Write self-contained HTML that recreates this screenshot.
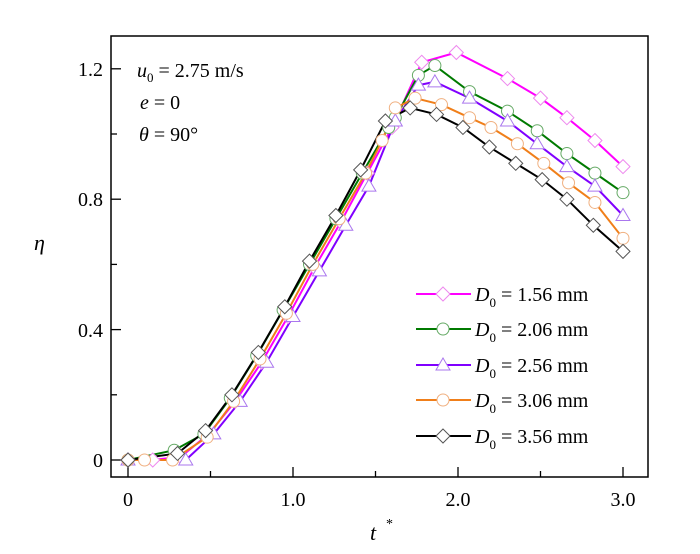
<!DOCTYPE html>
<html><head><meta charset="utf-8"><style>
body{margin:0;background:#fff;}
svg{display:block;font-family:"Liberation Serif",serif;}
</style></head><body>
<svg id="s" width="700" height="554" viewBox="0 0 700 554" xmlns="http://www.w3.org/2000/svg">
<rect x="111" y="36" width="537" height="441" fill="none" stroke="#000" stroke-width="1.5"/>
<g id="ticks" stroke="#000" stroke-width="1.3"></g>
<g font-size="20" text-anchor="end" fill="#000">
<text x="103" y="467">0</text><text x="103" y="337">0.4</text><text x="103" y="206">0.8</text><text x="103" y="76">1.2</text>
</g>
<g font-size="20" text-anchor="middle" fill="#000">
<text x="128" y="506">0</text><text x="293" y="506">1.0</text><text x="458" y="506">2.0</text><text x="623" y="506">3.0</text>
</g>
<text x="34" y="250" font-size="22" font-style="italic">η</text>
<text x="370" y="540" font-size="22" font-style="italic">t</text><text x="386" y="528" font-size="14">*</text>
<g font-size="20" fill="#000">
<text x="137" y="77"><tspan font-style="italic">u</tspan><tspan font-size="13" dy="5">0</tspan><tspan dy="-5"> = 2.75 m/s</tspan></text>
<text x="140" y="109"><tspan font-style="italic">e</tspan> = 0</text>
<text x="139" y="141"><tspan font-style="italic">θ</tspan> = 90°</text>
</g>
<g id="series"></g>
<g id="legend" font-size="20"></g>
</svg>
<script>
var NS="http://www.w3.org/2000/svg";
function X(t){return 128+165*t}function Y(v){return 460-326*v}
function el(n,a,p){var e=document.createElementNS(NS,n);for(var k in a)e.setAttribute(k,a[k]);(p||document.getElementById('series')).appendChild(e);return e}
var tk=document.getElementById('ticks');
for(var i=0;i<=6;i++){var x=X(i*0.5);el('line',{x1:x,x2:x,y1:477,y2:i%2?471:467},tk);}
for(var i=0;i<=6;i++){var y=Y(i*0.2);el('line',{x1:111,x2:i%2?117:121,y1:y,y2:y},tk);}
var S=[
{c:"#ff00ff",m:"d",d:[[0,0],[0.15,0],[0.32,0.01],[0.49,0.08],[0.65,0.18],[0.81,0.3],[0.97,0.44],[1.13,0.59],[1.29,0.73],[1.45,0.88],[1.6,1.02],[1.78,1.22],[1.99,1.25],[2.3,1.17],[2.5,1.11],[2.66,1.05],[2.83,0.98],[3.0,0.9]]},
{c:"#007a00",m:"o",d:[[0,0],[0.28,0.03],[0.46,0.08],[0.62,0.19],[0.78,0.32],[0.94,0.46],[1.1,0.6],[1.26,0.74],[1.42,0.88],[1.58,1.02],[1.62,1.05],[1.76,1.18],[1.86,1.21],[2.07,1.13],[2.3,1.07],[2.48,1.01],[2.66,0.94],[2.83,0.88],[3.0,0.82]]},
{c:"#8000ff",m:"t",d:[[0,0],[0.35,0],[0.52,0.08],[0.68,0.18],[0.84,0.3],[1.0,0.44],[1.16,0.58],[1.32,0.72],[1.46,0.84],[1.62,1.04],[1.76,1.15],[1.86,1.16],[2.07,1.11],[2.3,1.04],[2.48,0.97],[2.66,0.9],[2.83,0.84],[3.0,0.75]]},
{c:"#f07f1a",m:"o",d:[[0,0],[0.1,0],[0.27,0],[0.48,0.07],[0.64,0.18],[0.8,0.31],[0.96,0.45],[1.12,0.6],[1.28,0.74],[1.44,0.88],[1.54,0.98],[1.62,1.08],[1.74,1.11],[1.9,1.09],[2.07,1.05],[2.2,1.02],[2.36,0.97],[2.52,0.91],[2.67,0.85],[2.83,0.79],[3.0,0.68]]},
{c:"#000000",m:"d",d:[[0,0],[0.3,0.02],[0.47,0.09],[0.63,0.2],[0.79,0.33],[0.95,0.47],[1.1,0.61],[1.26,0.75],[1.41,0.89],[1.56,1.04],[1.71,1.08],[1.87,1.06],[2.03,1.02],[2.19,0.96],[2.35,0.91],[2.51,0.86],[2.66,0.8],[2.82,0.72],[3.0,0.64]]}
];
function mark(s,x,y,p){var mc={"#ff00ff":"#ee88ee","#007a00":"#66aa66","#8000ff":"#aa77ee","#f07f1a":"#f0b080","#000000":"#555"}[s.c];
 var a={fill:"#fff",stroke:mc,"stroke-width":1};
 if(s.m=="d"){a.points=[x,y-7,x+7,y,x,y+7,x-7,y].join(' ');el('polygon',a,p);}
 else if(s.m=="o"){a.cx=x;a.cy=y;a.r=6;el('circle',a,p);}
 else{a.points=[x,y-7,x+7,y+5,x-7,y+5].join(' ');el('polygon',a,p);}}
S.forEach(function(s){el('polyline',{points:s.d.map(function(p){return X(p[0])+','+Y(p[1])}).join(' '),fill:'none',stroke:s.c,'stroke-width':2});});
S.forEach(function(s){s.d.forEach(function(p){mark(s,X(p[0]),Y(p[1]));});});
var L=document.getElementById('legend'),names=["1.56","2.06","2.56","3.06","3.56"],ys=[294,329,365,400,436];
S.forEach(function(s,i){var y=ys[i];el('line',{x1:416,x2:471,y1:y,y2:y,stroke:s.c,'stroke-width':2},L);mark(s,443,y,L);
 var t=el('text',{x:475,y:y+7},L);t.innerHTML='<tspan font-style="italic">D</tspan><tspan font-size="13" dy="6">0</tspan><tspan dy="-6"> = '+names[i]+' mm</tspan>';});
</script>
</body></html>
